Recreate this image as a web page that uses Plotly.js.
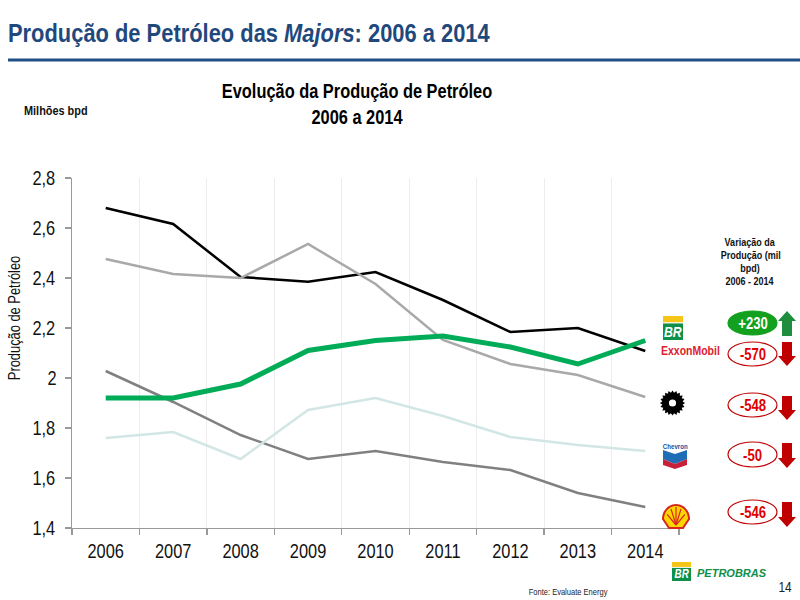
<!DOCTYPE html>
<html><head><meta charset="utf-8">
<script src="https://cdn.plot.ly/plotly-3.0.1.min.js"></script>
<style>html,body{margin:0;padding:0;background:#fff}#c{width:800px;height:600px}</style>
</head><body><div id="c"></div>
<script>
var years = ['2006','2007','2008','2009','2010','2011','2012','2013','2014'];
var shell     = [2.028,1.904,1.772,1.676,1.708,1.664,1.632,1.540,1.484];
var exxon     = [2.680,2.616,2.404,2.385,2.424,2.312,2.184,2.200,2.108];
var bp        = [2.476,2.416,2.400,2.536,2.376,2.152,2.056,2.012,1.924];
var chevron   = [1.760,1.784,1.676,1.872,1.920,1.848,1.764,1.732,1.708];
var petrobras = [1.920,1.920,1.976,2.110,2.150,2.168,2.124,2.056,2.150];
var yTickVals = [1.4,1.6,1.8,2,2.2,2.4,2.6,2.8];
var yTickText = ['1,4','1,6','1,8','2','2,2','2,4','2,6','2,8'];
var changes = ['+230','-570','-548','-50','-546'];
var variationHeader = ['Variação da','Produção (mil','bpd)','2006 - 2014'];

var FONT = '"Liberation Sans",Arial,sans-serif';
var SQUEEZE = 0.82;
var L=72, T=178, W=607, H=350;
function px(x){return (x-L)/W;}
function py(y){return (T+H-y)/H;}
function P(x,y){return px(x).toFixed(5)+','+py(y).toFixed(5);}
function path(pts,close){return 'M'+pts.map(function(p){return P(p[0],p[1]);}).join(' L')+(close===false?'':' Z');}

var shapes=[], anns=[];
function rect(x0,y0,x1,y1,c){shapes.push({type:'rect',xref:'paper',yref:'paper',x0:px(x0),x1:px(x1),y0:py(y0),y1:py(y1),fillcolor:c,line:{width:0}});}
function oval(x0,y0,x1,y1,fill,line){shapes.push({type:'circle',xref:'paper',yref:'paper',x0:px(x0),x1:px(x1),y0:py(y0),y1:py(y1),fillcolor:fill,line:{color:line,width:1.2}});}
function poly(pts,c,lc,lw){shapes.push({type:'path',xref:'paper',yref:'paper',path:path(pts),fillcolor:c,line:{color:lc||c,width:lw||0}});}
function text(x,y,s,size,color,anchor){
  anns.push({xref:'paper',yref:'paper',x:px(x),y:py(y),text:s,showarrow:false,xanchor:anchor||'center',yanchor:'middle',
    font:{family:FONT,size:size,color:color},borderpad:0,borderwidth:0});
}

// slide header
rect(8,58.5,800,61.5,'#1F4E84');
text(8,33,'<b>Produção de Petróleo das <i>Majors</i>: 2006 a 2014</b>',26.7,'#1F497D','left');
text(24,111,'<b>Milhões bpd</b>',13.3,'#111','left');
variationHeader.forEach(function(s,i){ text(750,242+13*i,'<b>'+s+'</b>',11,'#111','center'); });
text(785,587,'14',14.5,'#222','center');
text(568,592,'Fonte: Evaluate Energy',9.2,'#222','center');

// BR logo
function brLogo(x0,y0,w,h,fs){
  rect(x0,y0,x0+w,y0+h*0.26,'#F5C518');
  rect(x0,y0+h*0.31,x0+w,y0+h,'#0E8F4A');
  text(x0+w/2,y0+h*0.65,'<b><i>BR</i></b>',fs,'#fff','center');
}
brLogo(663,316,20,24,15);
brLogo(672,562,19,19,12);
var wideStart = anns.length;
text(697,572.5,'<b><i>PETROBRAS</i></b>',11,'#0E8F4A','left');
var wideEnd = anns.length;

// ExxonMobil wordmark
text(661,350,'<b>ExxonMobil</b>',12.8,'#E0202E','left');

// BP gear silhouette
(function(){
  var cx=672.5,cy=403,pts=[],n=20;
  for(var i=0;i<n*2;i++){var a=i*Math.PI/n,r=(i%2)?10.3:12.6;pts.push([cx+r*Math.cos(a),cy+r*Math.sin(a)]);}
  poly(pts,'#000');
  oval(cx-3,cy-3,cx+3,cy+3,'#fff','#fff');
})();

// Chevron mark
text(675,446.5,'<b>Chevron</b>',7.5,'#1B4F9C','center');
poly([[663,450],[675,454],[687,450],[687,459],[675,464],[663,459]],'#1F6DB5');
poly([[663,459],[675,464],[687,459],[687,465],[675,469],[663,465]],'#C8203A');

// Shell pecten
(function(){
  var cx=676,by=528,pts=[],i,a;
  for(i=0;i<=24;i++){a=Math.PI*i/24;pts.push([cx-13*Math.cos(a),by-9-14*Math.sin(a)]);}
  pts.push([cx+9,by-3],[cx+7,by],[cx-7,by],[cx-9,by-3]);
  poly(pts,'#FFD500','#D8261C',2);
  for(i=0;i<5;i++){
    var ang=Math.PI*(0.2+0.15*i);
    shapes.push({type:'path',xref:'paper',yref:'paper',path:path([[cx,by-3],[cx-11*Math.cos(ang),by-3-18*Math.sin(ang)]],false),line:{color:'#D8261C',width:1.2}});
  }
})();

// change badges
var badgeY = [[311,335],[342,366],[393,417],[442,467],[500,524]];
var arrowY = [[311,336],[342,366],[396,420],[443,468],[502,527]];
changes.forEach(function(s,i){
  var up=s.charAt(0)==='+', y0=badgeY[i][0], y1=badgeY[i][1];
  oval(728,y0,777,y1,up?'#12A01E':'#fff',up?'#12A01E':'#C00000');
  text(752.5,(y0+y1)/2+0.5,'<b>'+s+'</b>',16,up?'#fff':'#E00000','center');
  var a0=arrowY[i][0], a1=arrowY[i][1], c=up?'#1E8E3E':'#C00000', xm=787, hw=9, sw=5;
  if(up) poly([[xm,a0],[xm+hw,a0+10],[xm+sw,a0+10],[xm+sw,a1],[xm-sw,a1],[xm-sw,a0+10],[xm-hw,a0+10]],c);
  else   poly([[xm,a1],[xm+hw,a1-10],[xm+sw,a1-10],[xm+sw,a0],[xm-sw,a0],[xm-sw,a1-10],[xm-hw,a1-10]],c);
});

function tr(name,y,color,width){return {type:'scatter',mode:'lines',name:name,x:years,y:y,line:{color:color,width:width,shape:'linear'}};}
var data=[
  tr('Shell',shell,'#808080',2.5),
  tr('ExxonMobil',exxon,'#000000',2.5),
  tr('BP',bp,'#A9A9A9',2.5),
  tr('Chevron',chevron,'#D3E6E6',2.5),
  tr('Petrobras',petrobras,'#00AC57',5)
];
var layout={
  width:800,height:600,autosize:false,showlegend:false,
  paper_bgcolor:'#fff',plot_bgcolor:'#fff',
  margin:{l:L,r:800-L-W,t:T,b:600-T-H,pad:0},
  title:{text:'<b>Evolução da Produção de Petróleo<br>2006 a 2014</b>',x:357/800,xanchor:'center',xref:'container',y:1-98.5/600,yanchor:'middle',yref:'container',font:{family:FONT,size:20,color:'#000'}},
  font:{family:FONT,color:'#111'},
  xaxis:{type:'category',range:[-0.5,8.5],tickson:'boundaries',ticks:'outside',ticklen:6,tickwidth:1.3,tickcolor:'#999',
    ticklabelstandoff:5,showline:true,linecolor:'#999',linewidth:1.3,showgrid:true,gridcolor:'#EDEDED',gridwidth:1,zeroline:false,
    tickfont:{family:FONT,size:20,color:'#111'},tickangle:0,fixedrange:true},
  yaxis:{range:[1.4,2.8],tickmode:'array',tickvals:yTickVals,ticktext:yTickText,ticks:'outside',ticklen:6,tickwidth:1.3,tickcolor:'#999',
    ticklabelstandoff:3,showline:true,linecolor:'#999',linewidth:1.3,showgrid:false,zeroline:false,
    tickfont:{family:FONT,size:20,color:'#111'},fixedrange:true,
    title:{text:'Produção de Petróleo',standoff:12,font:{family:FONT,size:15.7,color:'#111'}}},
  shapes:shapes,annotations:anns
};
// The original face is a condensed sans: narrow each real text element along its own baseline.
function squeeze(el,anchorLeft,shift){
  var b=el.getBBox(), ox=anchorLeft?b.x:b.x+b.width/2, t=el.getAttribute('transform')||'';
  el.setAttribute('transform',(shift||'')+' '+t+' translate('+ox+',0) scale('+SQUEEZE+',1) translate('+(-ox)+',0)');
}
Plotly.newPlot('c',data,layout,{displayModeBar:false,staticPlot:true}).then(function(gd){
  gd.querySelectorAll('.xtick text,.ytick text,.gtitle').forEach(function(el){squeeze(el,false);});
  gd.querySelectorAll('.ytitle').forEach(function(el){squeeze(el,false,'translate(6,-35)');});
  gd.querySelectorAll('.annotation').forEach(function(g){
    var i=+g.getAttribute('data-index');
    if(i>=wideStart&&i<wideEnd) return;
    var el=g.querySelector('text');
    if(el) squeeze(el,anns[i].xanchor==='left');
  });
});
</script></body></html>
